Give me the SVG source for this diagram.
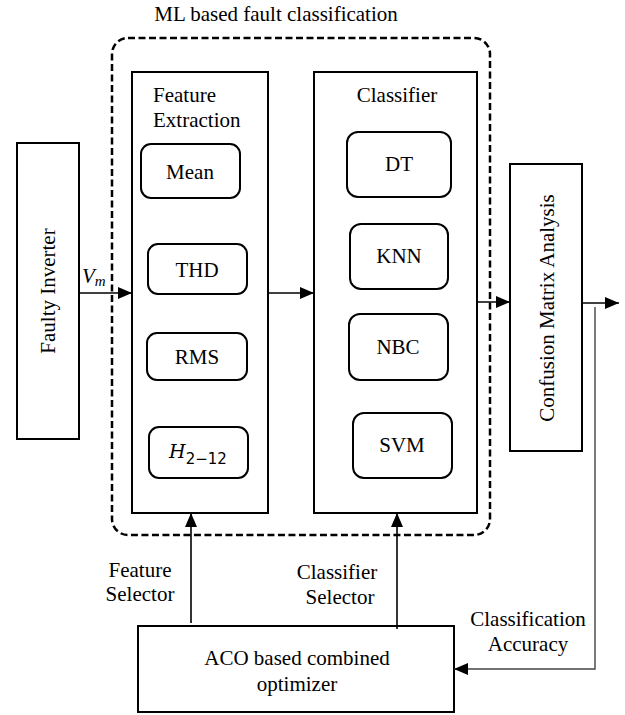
<svg xmlns="http://www.w3.org/2000/svg" width="625" height="715" viewBox="0 0 625 715">
<defs>
<style>
text{font-family:"Liberation Serif","Times New Roman",serif;font-size:21px;fill:#000}
.c{text-anchor:middle}
.box{fill:#fff;stroke:#000;stroke-width:2}
.rb{fill:#fff;stroke:#000;stroke-width:2}
.ln{fill:none;stroke:#000;stroke-width:1.6}
.dash{fill:none;stroke:#000;stroke-width:2.5;stroke-dasharray:7 3.5}
.m{font-style:italic}
</style>
<marker id="ah" markerWidth="14" markerHeight="12" refX="14" refY="6" orient="auto" markerUnits="userSpaceOnUse">
<path d="M0,0 L14,6 L0,12 Z" fill="#000"/>
</marker>
</defs>
<g id="ml-group">
<rect class="dash" x="112" y="38" width="378" height="497" rx="16"/>
<text class="c" x="276" y="21">ML based fault classification</text>
</g>
<g id="faulty-inverter">
<rect class="box" x="17" y="143" width="62" height="296"/>
<text class="c" transform="translate(55,291) rotate(-90)">Faulty Inverter</text>
</g>
<g id="feature-extraction">
<rect class="box" x="132" y="72" width="136" height="441"/>
<text x="153" y="102">Feature</text>
<text x="153" y="127">Extraction</text>
</g>
<g id="mean"><rect class="rb" x="141" y="144" width="99" height="54" rx="10"/><text class="c" x="190" y="179">Mean</text></g>
<g id="thd"><rect class="rb" x="148" y="244" width="99" height="50" rx="10"/><text class="c" x="197" y="277">THD</text></g>
<g id="rms"><rect class="rb" x="147" y="333" width="100" height="47" rx="10"/><text class="c" x="197" y="364">RMS</text></g>
<g id="h212"><rect class="rb" x="149" y="427" width="99" height="51" rx="10"/><text class="c" x="198" y="458"><tspan class="m" font-family="DejaVu Serif" font-size="19">H</tspan><tspan font-family="DejaVu Sans" font-size="15" dy="6">2−12</tspan></text></g>
<g id="classifier">
<rect class="box" x="314" y="72" width="163" height="441"/>
<text class="c" x="397" y="102">Classifier</text>
</g>
<g id="dt"><rect class="rb" x="347" y="132" width="104" height="65" rx="11"/><text class="c" x="399" y="171">DT</text></g>
<g id="knn"><rect class="rb" x="350" y="224" width="98" height="65" rx="11"/><text class="c" x="399" y="263">KNN</text></g>
<g id="nbc"><rect class="rb" x="349" y="314" width="99" height="66" rx="11"/><text class="c" x="398" y="354">NBC</text></g>
<g id="svm"><rect class="rb" x="353" y="413" width="99" height="65" rx="11"/><text class="c" x="402" y="452">SVM</text></g>
<g id="confusion-matrix">
<rect class="box" x="510" y="164" width="72" height="287"/>
<text class="c" transform="translate(554,308) rotate(-90)">Confusion Matrix  Analysis</text>
</g>
<g id="aco">
<rect class="box" x="138" y="626" width="316" height="86"/>
<text class="c" x="297" y="665">ACO based combined</text>
<text class="c" x="297" y="691">optimizer</text>
</g>
<g id="connectors">
<line class="ln" x1="79" y1="293" x2="132" y2="293" marker-end="url(#ah)"/>
<line class="ln" x1="268" y1="293" x2="314" y2="293" marker-end="url(#ah)"/>
<line class="ln" x1="477" y1="302" x2="510" y2="302" marker-end="url(#ah)"/>
<line class="ln" x1="582" y1="303" x2="619" y2="303" marker-end="url(#ah)"/>
<line class="ln" x1="191" y1="623" x2="191" y2="513" marker-end="url(#ah)"/>
<line class="ln" x1="397" y1="629" x2="397" y2="513" marker-end="url(#ah)"/>
<polyline fill="none" stroke="#444" stroke-width="1.4" points="595,307 595,669 454,669" marker-end="url(#ah)"/>
<text x="82" y="283"><tspan class="m">V</tspan><tspan class="m" font-size="15" dy="3">m</tspan></text>
<text class="c" x="140" y="577">Feature</text>
<text class="c" x="140" y="601">Selector</text>
<text class="c" x="337" y="579">Classifier</text>
<text class="c" x="340" y="604">Selector</text>
<text class="c" x="528" y="626">Classification</text>
<text class="c" x="528" y="651">Accuracy</text>
</g>
</svg>
